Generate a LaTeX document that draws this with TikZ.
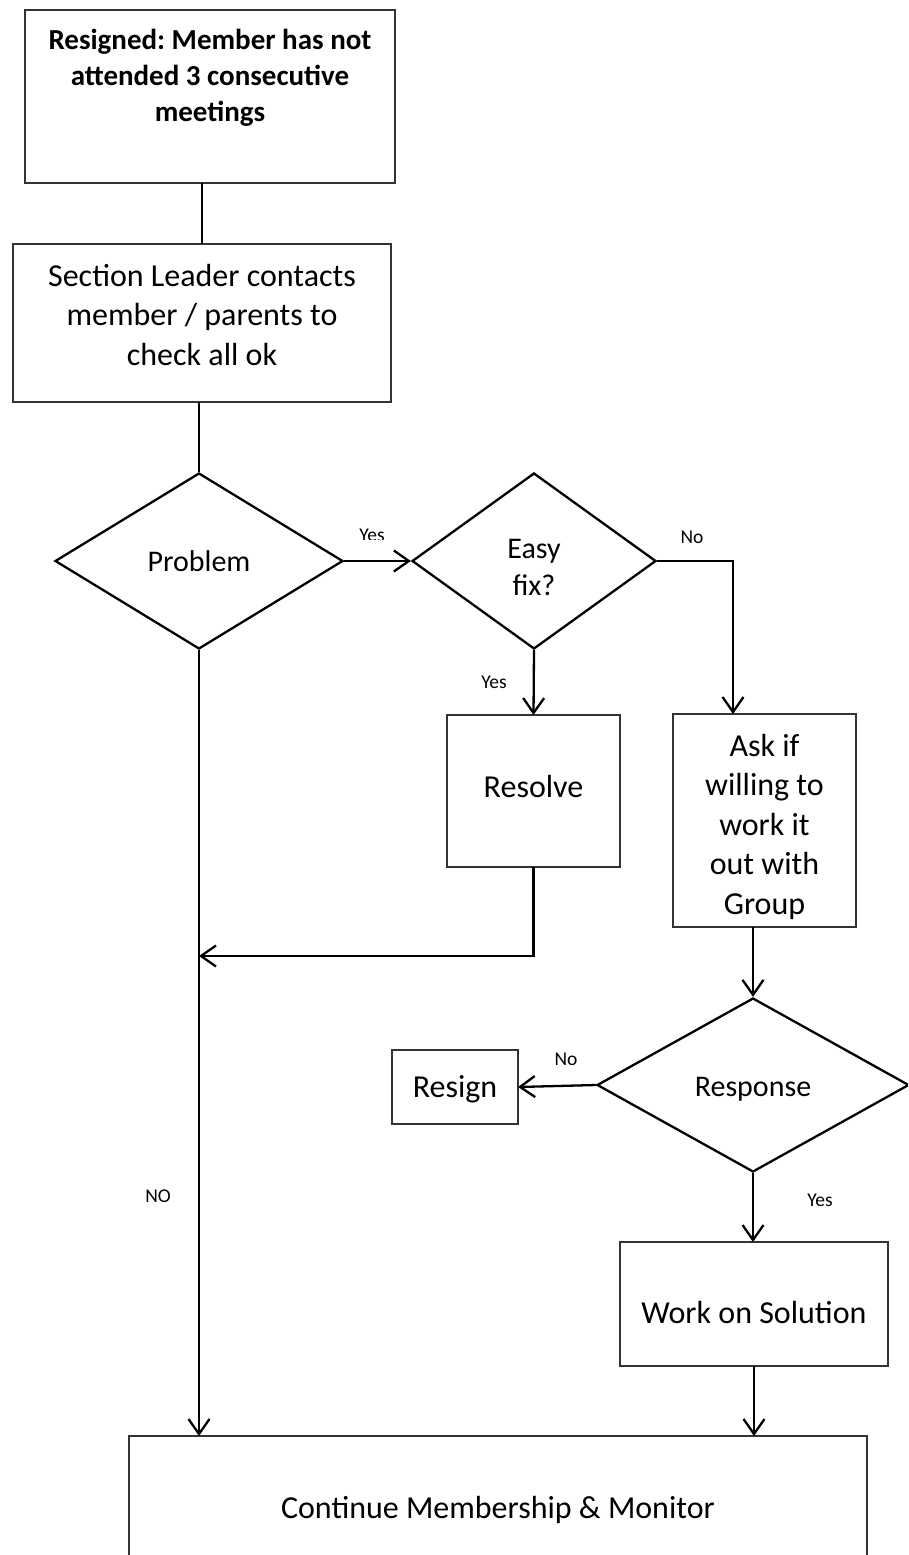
\documentclass[tikz,border=0pt]{standalone}
\usepackage{fontspec}
\setmainfont{Carlito}
\usetikzlibrary{arrows.meta,shapes.geometric}
\frenchspacing
\newcommand\bodyfnt{\fontsize{32}{39.5}\selectfont}
\newcommand\boldfnt{\bfseries\fontsize{29}{36}\selectfont}
\newcommand\lblfnt{\fontsize{19.5}{24}\selectfont}
\newcommand\dmdfnt{\fontsize{30}{37}\selectfont}
% width, height, top pad, text
\newcommand\bxt[4]{\parbox[t][#2][t]{#1}{\centering\vspace*{#3}\strut #4\par}}
\tikzset{
  boxnode/.style={draw=black!80, line width=1.4pt, inner sep=0pt, outer sep=0pt, anchor=north west, font=\bodyfnt},
  dmd/.style={diamond, draw=black, line width=2.3pt, inner sep=0pt, font=\dmdfnt, align=center},
  conn/.style={line width=2.3pt, draw=black},
  arr/.style={conn, -{Straight Barb[length=15pt,width=21pt,line width=2.3pt]}},
  lbl/.style={font=\lblfnt, inner sep=0pt}
}
\begin{document}
\begin{tikzpicture}[x=1pt,y=-1pt]
\useasboundingbox (0,0) rectangle (908,1555);
\clip (0,0) rectangle (908,1555);
\fill[white] (0,0) rectangle (908,1555);

% boxes
\node[boxnode, font=\boldfnt] (b1) at (25,10) {\bxt{370pt}{173pt}{14.8pt}{Resigned: Member has not\\ attended 3 consecutive\\ meetings}};
\node[boxnode] (b2) at (13,244) {\bxt{378pt}{158pt}{14.4pt}{Section Leader contacts\\ member / parents to\\ check all ok}};
\node[boxnode] (resolve) at (447,715) {\bxt{173pt}{152pt}{55pt}{Resolve}};
\node[boxnode] (ask) at (673,714) {\bxt{183pt}{213pt}{14.4pt}{Ask if\\ willing to\\ work it\\ out with\\ Group}};
\node[boxnode] (resign) at (392,1050) {\bxt{126pt}{74pt}{20pt}{Resign}};
\node[boxnode] (wos) at (620,1242) {\bxt{268pt}{124pt}{54pt}{Work on Solution}};
\node[boxnode] (cont) at (129,1436) {\bxt{738pt}{150pt}{55pt}{Continue Membership \& Monitor}};

% diamonds
\node[dmd, aspect=1.64, minimum width=288pt, minimum height=176pt] (prob) at (199,561) {Problem};
\node[dmd, aspect=1.39, minimum width=244pt, minimum height=176pt] (easy) at (534,561) {\parbox{100pt}{\centering\vspace*{13pt}Easy\\ fix?}};
\node[dmd, aspect=1.79, minimum width=312pt, minimum height=174pt] (resp) at (753,1085) {\parbox{130pt}{\centering\vspace*{8pt}Response}};

\coordinate (askin) at (733,714);
\coordinate (join) at (199,956);

% connectors
\draw[conn] (b2.north |- b1.south) -- (b2.north);
\draw[conn] (prob.north |- b2.south) -- (prob.north);
\draw[arr] (prob.east) -- (easy.west);
\draw[arr] (easy.east) -| (askin);
\draw[arr] (easy.south) -- (resolve.north);
\draw[conn] (resolve.south) |- (join);
\draw[arr] ([xshift=60pt]join) -- (join);
\draw[arr, line width=2.6pt] (prob.south) -- (prob.south |- cont.north);
\draw[arr] (resp.north |- ask.south) -- (resp.north);
\draw[arr] (resp.west) -- (resign.east);
\draw[arr] (resp.south) -- (resp.south |- wos.north);
\draw[arr] (wos.south) -- (wos.south |- cont.north);

% labels
\begin{scope}
\clip (340,515) rectangle (410,539.5);
\node[lbl] (l1) at (372,535) {Yes};
\end{scope}
\node[lbl] (l2) at (692,537) {No};
\node[lbl] (l3) at (494,682) {Yes};
\node[lbl] (l4) at (566,1059) {No};
\node[lbl] (l5) at (820,1200) {Yes};
\begin{scope}
\clip (130,1180) rectangle (190,1201);
\node[lbl] (l6) at (158,1196) {NO};
\end{scope}
\end{tikzpicture}
\end{document}
